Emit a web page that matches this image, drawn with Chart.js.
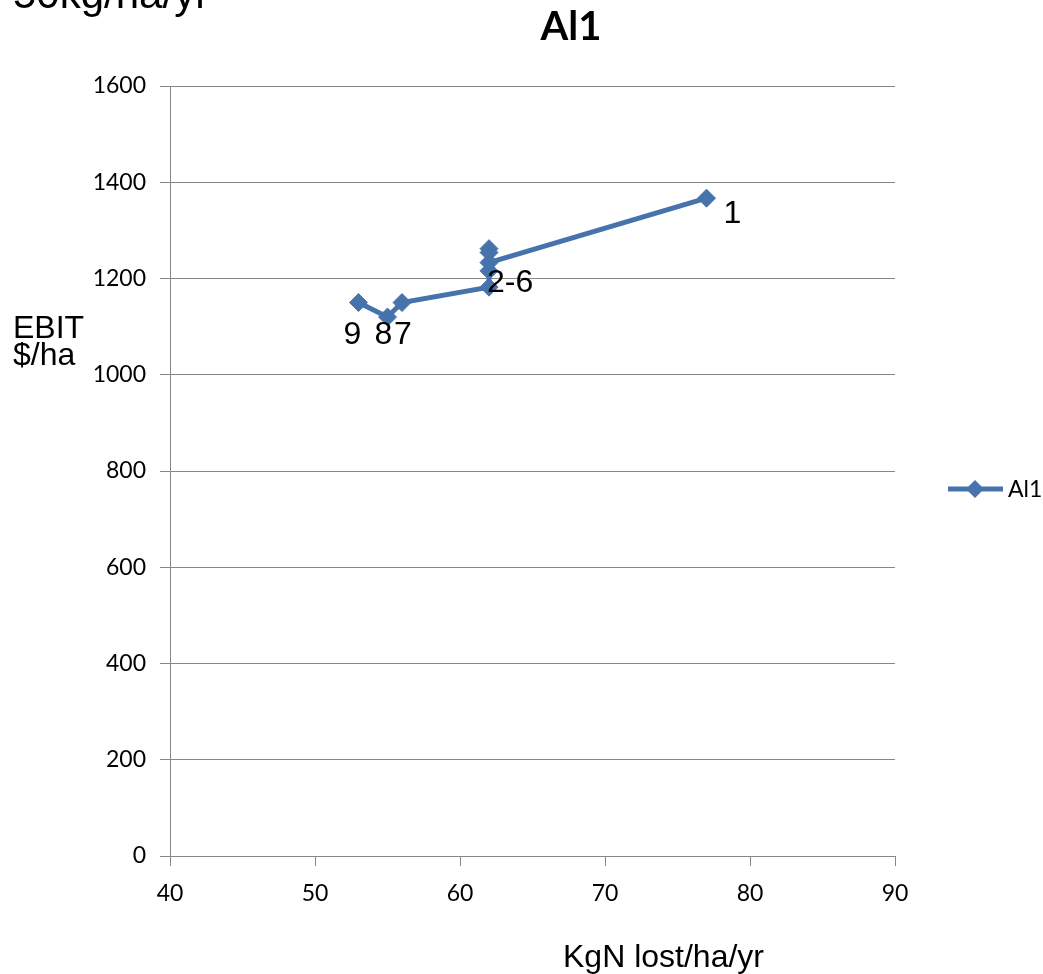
<!DOCTYPE html>
<html>
<head>
<meta charset="utf-8">
<script src="https://cdn.jsdelivr.net/npm/chart.js@4/dist/chart.umd.min.js"></script>
<style>
  html, body { margin: 0; padding: 0; background: #fff; }
  #wrap { width: 1043px; height: 974px; position: relative; }
</style>
</head>
<body>
<div id="wrap"><canvas id="c" width="1043" height="974"></canvas></div>
<script>
// N lost (kg/ha/yr) and EBIT ($/ha) for each scenario, in line order
const seriesName = 'Al1';
const nLost = [77, 62, 62, 62, 62, 62, 56, 55, 53];
const ebit = [1367, 1233, 1262, 1254, 1216, 1182, 1150, 1120, 1150];
const pointLabels = ['1', '', '', '', '', '2-6', '7', '8', '9'];
const xTicks = [40, 50, 60, 70, 80, 90];
const yTicks = [0, 200, 400, 600, 800, 1000, 1200, 1400, 1600];

const BLUE = '#4673AB';
const GRID = '#868686';
const ARIAL = '"Liberation Sans", Arial, sans-serif';
const CAL = 'Lato, "Liberation Sans", sans-serif';

// label placement relative to each point (px)
const labelOffsets = [[17, 25], null, null, null, null, [-2, 5], [-8, 41], [-13, 27], [-15, 41]];

const extras = {
  id: 'extras',
  afterDatasetsDraw(chart) {
    const { ctx, scales } = chart;
    ctx.save();
    ctx.fillStyle = '#000';
    ctx.textAlign = 'left';
    ctx.textBaseline = 'alphabetic';

    // point labels
    ctx.font = '32px ' + ARIAL;
    pointLabels.forEach((t, i) => {
      if (!t || !labelOffsets[i]) return;
      const px = scales.x.getPixelForValue(nLost[i]);
      const py = scales.y.getPixelForValue(ebit[i]);
      ctx.fillText(t, px + labelOffsets[i][0], py + labelOffsets[i][1]);
    });

    // heading cut at top edge
    ctx.font = '42px ' + ARIAL;
    ctx.fillText('50kg/ha/yr', 13, 8);

    // chart title
    ctx.font = 'bold 40px ' + CAL;
    ctx.textAlign = 'center';
    ctx.fillText(seriesName, 571, 40);

    // axis titles
    ctx.font = '32px ' + ARIAL;
    ctx.textAlign = 'left';
    ctx.fillText('EBIT', 13, 338);
    ctx.fillText('$/ha', 13, 365);
    ctx.fillText('KgN lost/ha/yr', 563, 967);

    // legend
    const ly = 489;
    ctx.strokeStyle = BLUE;
    ctx.lineWidth = 5;
    ctx.beginPath();
    ctx.moveTo(948, ly);
    ctx.lineTo(1003, ly);
    ctx.stroke();
    ctx.fillStyle = BLUE;
    ctx.beginPath();
    ctx.moveTo(975, ly - 9);
    ctx.lineTo(984, ly);
    ctx.lineTo(975, ly + 9);
    ctx.lineTo(966, ly);
    ctx.closePath();
    ctx.fill();
    ctx.fillStyle = '#000';
    ctx.font = '23px ' + CAL;
    ctx.textBaseline = 'middle';
    ctx.fillText(seriesName, 1008, ly + 1);
    ctx.restore();
  }
};

new Chart(document.getElementById('c'), {
  type: 'scatter',
  data: {
    datasets: [{
      label: seriesName,
      data: nLost.map((x, i) => ({ x: x, y: ebit[i] })),
      showLine: true,
      borderColor: BLUE,
      backgroundColor: BLUE,
      borderWidth: 5,
      tension: 0,
      pointStyle: 'rectRot',
      pointRadius: 9,
      pointBorderWidth: 1,
      pointBorderColor: BLUE,
      pointBackgroundColor: BLUE
    }]
  },
  options: {
    responsive: false,
    animation: false,
    events: [],
    layout: { padding: { left: 0, top: 86, right: 148, bottom: 0 } },
    plugins: { legend: { display: false }, title: { display: false }, tooltip: { enabled: false } },
    scales: {
      x: {
        type: 'linear',
        min: xTicks[0], max: xTicks[xTicks.length - 1],
        afterFit(s) { s.height = 118; },
        afterBuildTicks(s) { s.ticks = xTicks.map(v => ({ value: v })); },
        grid: { drawOnChartArea: false, drawTicks: true, tickLength: 10, color: GRID, lineWidth: 1 },
        border: { display: true, color: GRID, width: 1 },
        ticks: { color: '#000', font: { family: CAL, size: 23 }, padding: 14, maxRotation: 0,
                 callback: v => String(v) }
      },
      y: {
        type: 'linear',
        min: yTicks[0], max: yTicks[yTicks.length - 1],
        afterFit(s) { s.width = 170; },
        afterBuildTicks(s) { s.ticks = yTicks.map(v => ({ value: v })); },
        grid: { drawOnChartArea: true, drawTicks: true, tickLength: 10, color: GRID, lineWidth: 1 },
        border: { display: true, color: GRID, width: 1 },
        ticks: { color: '#000', font: { family: CAL, size: 23 }, padding: 14,
                 callback: v => String(v) }
      }
    }
  },
  plugins: [extras]
});
</script>
</body>
</html>
